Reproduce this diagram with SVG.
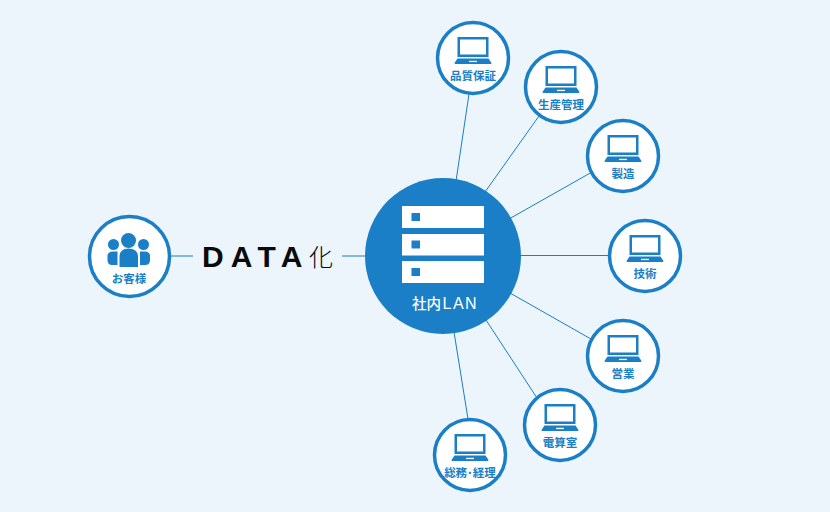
<svg xmlns="http://www.w3.org/2000/svg" width="830" height="512" viewBox="0 0 830 512">
<style>
.n{fill:#fff;stroke:#1a7fc6;stroke-width:3.500}
.c{stroke:#1a7fc6;stroke-width:1;fill:none}
.b{fill:#1a7fc6}
.l{font-family:"Noto Sans CJK JP","Noto Sans",sans-serif;font-size:11.500px;font-weight:700;fill:#1a7fc6;text-anchor:middle}
</style>
<defs>
<g id="pc">
<path class="b" d="M-15.500-21H15.500V-1H-15.500ZM-13-18.500V-3.500H13V-18.500Z" fill-rule="evenodd"/>
<path class="b" d="M-15.500 0.500H15.500L18.500 5Q18.500 6 17.500 6H-17.500Q-18.500 6 -18.500 5Z"/>
<rect x="-4" y="2.800" width="8" height="1.300" fill="#fff"/>
</g>
</defs>
<rect width="830" height="512" fill="#ebf5fb"/>
<g id="connectors">
<path class="c" d="M170 256H193M342 256H366M469 94L456 181M539 116L485 192M592 172L509 219M609 255.500H520M591 339L510 293M537 398L486 320M468 419L454 332"/>
</g>
<g id="server">
<circle class="b" cx="443" cy="256" r="78"/>
<g fill="#fff"><rect x="402" y="206" width="82" height="22"/><rect x="402" y="234" width="82" height="21.500"/><rect x="402" y="261" width="82" height="22"/></g>
<g class="b"><rect x="411.500" y="213" width="8.500" height="8"/><rect x="411.500" y="240.500" width="8.500" height="8"/><rect x="411.500" y="268" width="8.500" height="8"/></g>
<text x="412" y="308.500" font-family="'Noto Sans CJK JP','Noto Sans',sans-serif" font-size="14.500" font-weight="500" fill="#fff">社内<tspan dx="1.500" font-size="16" font-family="'Liberation Sans',sans-serif" letter-spacing="1.500">LAN</tspan></text>
</g>
<g id="data"><text x="202" y="267" font-family="'Liberation Sans',sans-serif" font-size="30" font-weight="700" fill="#0a0a0a" letter-spacing="7.200">DATA</text><text x="309" y="266" font-family="'Noto Sans CJK JP',sans-serif" font-size="24" font-weight="300" fill="#0a0a0a">化</text></g>
<g id="customer">
<circle class="n" cx="129.500" cy="256.500" r="40"/>
<g class="b"><circle cx="128.500" cy="240.500" r="7.500"/><circle cx="113.500" cy="244.500" r="5.500"/><circle cx="143.500" cy="244.500" r="5.500"/>
<path d="M119.500 267V257Q119.500 248.500 128.500 248.500Q138 248.500 138 257V267Z"/><path d="M117.500 265H112Q107.500 265 107.500 260V256Q107.500 251.500 113 251.500H117.500Z"/><path d="M140 265H145Q150 265 150 260V256Q150 251.500 144.500 251.500H140Z"/></g>
<text class="l" x="129" y="282.500">お客様</text>
</g>
<g id="n1"><circle class="n" cx="473" cy="58" r="35.500"/><use href="#pc" x="473" y="58"/><text class="l" x="473" y="80">品質保証</text></g>
<g id="n2"><circle class="n" cx="561" cy="87" r="35.500"/><use href="#pc" x="561" y="87"/><text class="l" x="561" y="109">生産管理</text></g>
<g id="n3"><circle class="n" cx="623" cy="156" r="35.500"/><use href="#pc" x="623" y="156"/><text class="l" x="623" y="178">製造</text></g>
<g id="n4"><circle class="n" cx="645" cy="256" r="35.500"/><use href="#pc" x="645" y="256"/><text class="l" x="645" y="278">技術</text></g>
<g id="n5"><circle class="n" cx="623" cy="356" r="35.500"/><use href="#pc" x="623" y="356"/><text class="l" x="623" y="378">営業</text></g>
<g id="n6"><circle class="n" cx="560" cy="425" r="35.500"/><use href="#pc" x="560" y="425"/><text class="l" x="560" y="447">電算室</text></g>
<g id="n7"><circle class="n" cx="470" cy="455" r="35.500"/><use href="#pc" x="470" y="455"/><text class="l" x="470" y="477">総務･経理</text></g>
</svg>
